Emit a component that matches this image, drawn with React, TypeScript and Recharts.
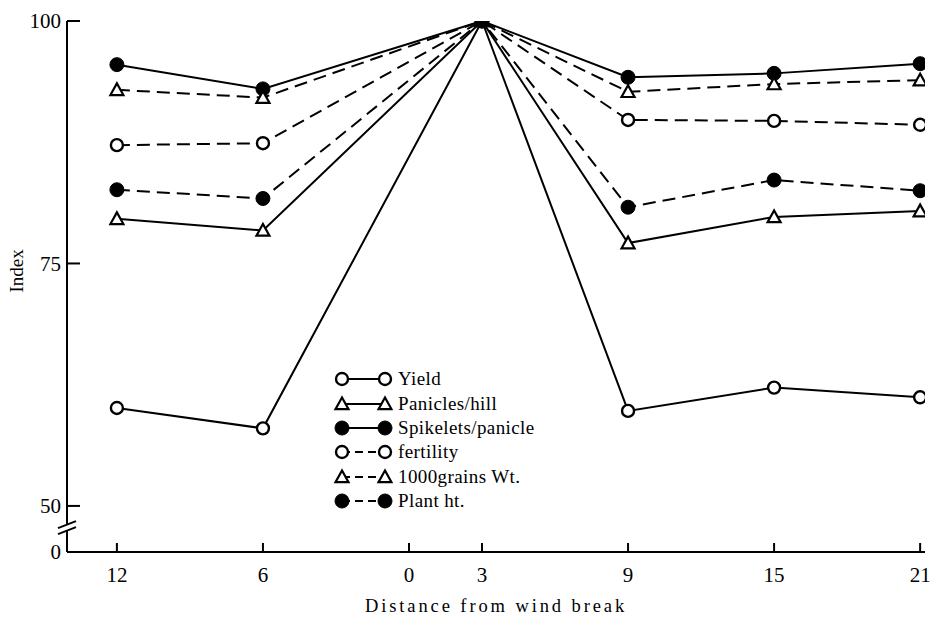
import React from 'react';
import { LineChart, Line, XAxis, YAxis, Legend, ReferenceDot } from 'recharts';

const distances = [-12, -6, 3, 9, 15, 21];
const yieldIdx = [60.1, 58.0, 100, 59.8, 62.2, 61.2];
const panicles = [79.6, 78.4, 100, 77.1, 79.8, 80.4];
const spikelets = [95.5, 93.0, 100, 94.2, 94.6, 95.6];
const fertility = [87.2, 87.4, 100, 89.8, 89.7, 89.3];
const grainWt = [92.9, 92.1, 100, 92.7, 93.5, 93.9];
const plantHt = [82.6, 81.7, 100, 80.8, 83.6, 82.5];

const xTicks = [-12, -6, 0, 3, 9, 15, 21];
const yTicks = [45.25, 50, 75, 100];

const data = distances.map((d, i) => ({
  d,
  yieldIdx: yieldIdx[i],
  panicles: panicles[i],
  spikelets: spikelets[i],
  fertility: fertility[i],
  grainWt: grainWt[i],
  plantHt: plantHt[i],
}));

type Marker = 'open' | 'tri' | 'fill';

const series: { key: string; name: string; marker: Marker; dashed: boolean }[] = [
  { key: 'yieldIdx', name: 'Yield', marker: 'open', dashed: false },
  { key: 'panicles', name: 'Panicles/hill', marker: 'tri', dashed: false },
  { key: 'spikelets', name: 'Spikelets/panicle', marker: 'fill', dashed: false },
  { key: 'fertility', name: 'fertility', marker: 'open', dashed: true },
  { key: 'grainWt', name: '1000grains Wt.', marker: 'tri', dashed: true },
  { key: 'plantHt', name: 'Plant ht.', marker: 'fill', dashed: true },
];

const FONT = '"Liberation Serif", "DejaVu Serif", serif';
const DASH = '13 7';

const drawMarker = (marker: Marker, cx: number, cy: number, key?: React.Key) => {
  if (marker === 'tri') {
    const s = 6.5;
    const pts = `${cx},${cy - s} ${cx - s},${cy + s * 0.8} ${cx + s},${cy + s * 0.8}`;
    return <polygon key={key} points={pts} fill="#fff" stroke="#000" strokeWidth={2.2} />;
  }
  if (marker === 'fill') {
    return <circle key={key} cx={cx} cy={cy} r={7} fill="#000" stroke="#000" strokeWidth={1} />;
  }
  return <circle key={key} cx={cx} cy={cy} r={6} fill="#fff" stroke="#000" strokeWidth={2.4} />;
};

const makeDot = (marker: Marker) => (props: any) =>
  drawMarker(marker, props.cx, props.cy, `${marker}-${props.index}`);

const LegendBox = () => (
  <div style={{ fontFamily: FONT, fontSize: 19, color: '#000', lineHeight: '24px', letterSpacing: 0.4 }}>
    {series.map((s) => (
      <div key={s.key} style={{ display: 'flex', alignItems: 'center', height: 24.4 }}>
        <svg width={60} height={20} style={{ marginRight: 5 }}>
          <line
            x1={9}
            y1={10}
            x2={52}
            y2={10}
            stroke="#000"
            strokeWidth={2}
            strokeDasharray={s.dashed ? '8 5' : undefined}
          />
          {drawMarker(s.marker, 9, 10)}
          {drawMarker(s.marker, 52, 10)}
        </svg>
        <span>{s.name}</span>
      </div>
    ))}
  </div>
);

const AxisBreak = (props: any) => {
  const { cx, cy } = props;
  return (
    <g>
      <polygon points={`${cx - 8},${cy + 2} ${cx + 8},${cy - 4} ${cx + 8},${cy - 10} ${cx - 8},${cy - 4}`} fill="#fff" />
      <line x1={cx - 9} y1={cy + 2} x2={cx + 9} y2={cy - 5} stroke="#000" strokeWidth={2} />
      <line x1={cx - 9} y1={cy - 4} x2={cx + 9} y2={cy - 11} stroke="#000" strokeWidth={2} />
    </g>
  );
};

const App: React.FC = () => {
  return (
    <div style={{ position: 'absolute', left: 0, top: 0, background: '#fff' }}>
      <LineChart width={932} height={617} data={data} margin={{ top: 21, right: 7, bottom: 0, left: 0 }}>
        <XAxis
          dataKey="d"
          type="number"
          domain={[-14.05, 21.2]}
          ticks={xTicks}
          tickFormatter={(v: number) => String(Math.abs(v))}
          allowDataOverflow
          height={65}
          stroke="#000"
          strokeWidth={2}
          tickSize={-9}
          tickMargin={24}
          tick={{ fill: '#000', fontFamily: FONT, fontSize: 21 }}
          label={{
            value: 'Distance from wind break',
            position: 'insideBottom',
            offset: 5,
            fill: '#000',
            fontFamily: FONT,
            fontSize: 18.5,
            letterSpacing: 2.9,
          }}
        />
        <YAxis
          type="number"
          domain={[45.25, 100]}
          ticks={yTicks}
          tickFormatter={(v: number) => (v < 50 ? '0' : String(v))}
          allowDataOverflow
          width={67}
          stroke="#000"
          strokeWidth={2}
          tickSize={-13}
          tickMargin={19}
          tick={{ fill: '#000', fontFamily: FONT, fontSize: 21 }}
          label={{
            value: 'Index',
            angle: -90,
            position: 'insideLeft',
            offset: 16,
            dy: 6,
            fill: '#000',
            fontFamily: FONT,
            fontSize: 19,
          }}
        />
        {series.map((s) => (
          <Line
            key={s.key}
            dataKey={s.key}
            name={s.name}
            type="linear"
            stroke="#000"
            strokeWidth={2}
            strokeDasharray={s.dashed ? DASH : undefined}
            dot={makeDot(s.marker)}
            activeDot={false}
            isAnimationActive={false}
          />
        ))}
        <ReferenceDot x={-14.05} y={47.3} ifOverflow="visible" shape={AxisBreak} />
        <Legend
          layout="vertical"
          verticalAlign="middle"
          align="center"
          content={LegendBox}
          wrapperStyle={{ left: 333, top: 367, width: 260 }}
        />
      </LineChart>
    </div>
  );
};

export default App;
